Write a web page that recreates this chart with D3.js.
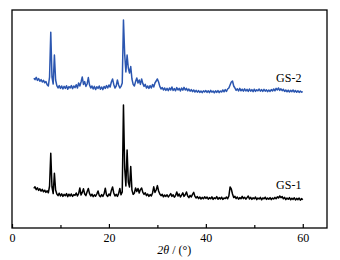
<!DOCTYPE html>
<html>
<head>
<meta charset="utf-8">
<script src="https://cdnjs.cloudflare.com/ajax/libs/d3/7.8.5/d3.min.js"></script>
<style>
  body { margin: 0; background: #fff; }
  text { font-family: "Liberation Serif", "Times New Roman", serif; }
</style>
</head>
<body>
<div id="chart"></div>
<script>
// 2theta sampling positions (deg)
var twoTheta = [
  4.5, 4.75, 5, 5.25, 5.5, 5.75, 6, 6.25, 6.5, 6.75, 7, 7.25, 7.5, 7.75,
  8, 8.25, 8.5, 8.75, 9, 9.25, 9.5, 9.75, 10, 10.25, 10.5, 10.75, 11, 11.25, 11.5, 11.75,
  12, 12.25, 12.5, 12.75, 13, 13.25, 13.5, 13.75, 14, 14.25, 14.5, 14.75, 15, 15.25, 15.5, 15.75,
  16, 16.25, 16.5, 16.75, 17, 17.25, 17.5, 17.75, 18, 18.25, 18.5, 18.75, 19, 19.25, 19.5, 19.75,
  20, 20.25, 20.5, 20.75, 21, 21.25, 21.5, 21.75, 22, 22.25, 22.5, 22.75, 23, 23.25, 23.5, 23.75,
  24, 24.25, 24.5, 24.75, 25, 25.25, 25.5, 25.75, 26, 26.25, 26.5, 26.75, 27, 27.25, 27.5, 27.75,
  28, 28.25, 28.5, 28.75, 29, 29.25, 29.5, 29.75, 30, 30.25, 30.5, 30.75, 31, 31.25, 31.5, 31.75,
  32, 32.25, 32.5, 32.75, 33, 33.25, 33.5, 33.75, 34, 34.25, 34.5, 34.75, 35, 35.25, 35.5, 35.75,
  36, 36.25, 36.5, 36.75, 37, 37.25, 37.5, 37.75, 38, 38.25, 38.5, 38.75, 39, 39.25, 39.5, 39.75,
  40, 40.25, 40.5, 40.75, 41, 41.25, 41.5, 41.75, 42, 42.25, 42.5, 42.75, 43, 43.25, 43.5, 43.75,
  44, 44.25, 44.5, 44.75, 45, 45.25, 45.5, 45.75, 46, 46.25, 46.5, 46.75, 47, 47.25, 47.5, 47.75,
  48, 48.25, 48.5, 48.75, 49, 49.25, 49.5, 49.75, 50, 50.25, 50.5, 50.75, 51, 51.25, 51.5, 51.75,
  52, 52.25, 52.5, 52.75, 53, 53.25, 53.5, 53.75, 54, 54.25, 54.5, 54.75, 55, 55.25, 55.5, 55.75,
  56, 56.25, 56.5, 56.75, 57, 57.25, 57.5, 57.75, 58, 58.25, 58.5, 58.75, 59, 59.25, 59.5, 59.75,
  60
];

// intensity (a.u.) of GS-1
var gs1 = [
  198, 206, 192, 201, 188, 196, 184, 193, 181, 189, 178, 186, 176, 210,
  374, 205, 172, 274, 190, 170, 162, 174, 160, 171, 158, 168, 161, 172, 157, 169,
  160, 170, 158, 167, 163, 175, 160, 172, 200, 165, 178, 196, 170, 162, 181, 198,
  172, 160, 169, 157, 166, 159, 170, 185, 163, 156, 167, 158, 171, 199, 165, 158,
  170, 162, 188, 205, 175, 160, 168, 158, 172, 198, 166, 180, 615, 300, 210, 390,
  230, 205, 307, 190, 168, 175, 200, 182, 198, 175, 192, 200, 178, 168, 176, 162,
  170, 158, 167, 160, 175, 206, 178, 190, 212, 185, 170, 162, 168, 156, 165, 158,
  166, 155, 163, 172, 158, 166, 154, 162, 180, 160, 170, 155, 164, 176, 158, 166,
  180, 160, 152, 163, 155, 168, 178, 158, 150, 157, 147, 155, 145, 153, 146, 156,
  148, 155, 144, 152, 146, 156, 143, 151, 147, 157, 144, 152, 145, 154, 143, 150,
  147, 155, 146, 160, 205, 195, 170, 152, 158, 147, 155, 144, 152, 146, 158, 147,
  154, 144, 152, 160, 145, 153, 143, 151, 146, 155, 142, 150, 145, 153, 141, 150,
  146, 154, 143, 150, 144, 152, 142, 150, 145, 153, 146, 156, 150, 160, 152, 157,
  146, 153, 142, 150, 144, 152, 141, 149, 143, 151, 140, 148, 142, 150, 139, 147,
  141
];

// intensity (a.u.) of GS-2, drawn shifted up by offset2
var gs2 = [
  209, 202, 213, 198, 207, 194, 202, 190, 198, 186, 192, 176, 170, 215,
  439, 215, 180, 325, 200, 172, 160, 172, 158, 170, 155, 168, 158, 171, 154, 167,
  160, 172, 157, 170, 162, 176, 160, 185, 170, 190, 215, 178, 192, 168, 180, 212,
  175, 160, 170, 155, 168, 152, 166, 158, 170, 154, 165, 152, 168, 158, 172, 160,
  175, 165, 190, 205, 178, 160, 170, 200, 175, 160, 168, 185, 500, 330, 240, 325,
  260, 235, 267, 205, 178, 170, 192, 210, 185, 200, 178, 205, 182, 168, 178, 160,
  170, 158, 172, 160, 178, 165, 185, 195, 205, 190, 168, 155, 162, 150, 160, 148,
  158, 147, 160, 150, 165, 148, 157, 146, 162, 150, 158, 145, 160, 149, 163, 150,
  158, 146, 155, 144, 152, 142, 150, 140, 148, 139, 147, 138, 145, 137, 146, 140,
  147, 138, 146, 137, 148, 139, 145, 136, 146, 138, 147, 137, 145, 140, 150, 141,
  152, 143, 155, 160, 175, 190, 195, 170, 160, 148, 156, 145, 158, 146, 154, 144,
  156, 145, 153, 143, 155, 144, 152, 142, 154, 143, 151, 146, 155, 144, 152, 143,
  153, 144, 151, 142, 150, 143, 152, 145, 155, 146, 158, 150, 160, 148, 156, 147,
  153, 143, 150, 141, 149, 140, 148, 142, 150, 140, 147, 139, 146, 138, 145, 139,
  142
];
var offset2 = 540;

var majorTicks = [0, 20, 40, 60];
var minorTicks = [10, 30, 50];

var svgWidth = 340;
var svgHeight = 260;
var margin = { top: 10, right: 13, bottom: 32, left: 12 };
var width = svgWidth - margin.left - margin.right;
var height = svgHeight - margin.top - margin.bottom;

var svg = d3.select("#chart").append("svg")
  .attr("width", svgWidth)
  .attr("height", svgHeight);

var chartGroup = svg.append("g")
  .attr("transform", `translate(${margin.left}, ${margin.top})`);

var xScale = d3.scaleLinear().domain([0, 65]).range([0, width]);
var yScale = d3.scaleLinear().domain([0, 1090]).range([height, 0]);

var line = d3.line()
  .x(function (d) { return xScale(d[0]); })
  .y(function (d) { return yScale(d[1]); });

var gs1Data = twoTheta.map(function (t, i) { return [t, gs1[i]]; });
var gs2Data = twoTheta.map(function (t, i) { return [t, gs2[i] + offset2]; });

chartGroup.append("path")
  .datum(gs2Data)
  .attr("d", line)
  .attr("fill", "none")
  .attr("stroke", "#2b56b0")
  .attr("stroke-width", 1.5)
  .attr("stroke-linejoin", "round");

chartGroup.append("path")
  .datum(gs1Data)
  .attr("d", line)
  .attr("fill", "none")
  .attr("stroke", "#000")
  .attr("stroke-width", 1.5)
  .attr("stroke-linejoin", "round");

// bottom axis, ticks pointing inward
var bottomAxis = d3.axisBottom(xScale).tickValues(majorTicks).tickSize(-4).tickPadding(5);
var xAxisG = chartGroup.append("g")
  .attr("transform", `translate(0, ${height})`)
  .call(bottomAxis);
xAxisG.select(".domain").remove();
xAxisG.selectAll("text").style("font-size", "12px").attr("fill", "#000");
xAxisG.selectAll("line").attr("stroke-width", 1.2);

var minorAxis = d3.axisBottom(xScale).tickValues(minorTicks).tickSize(-3).tickFormat("");
var minorG = chartGroup.append("g")
  .attr("transform", `translate(0, ${height})`)
  .call(minorAxis);
minorG.select(".domain").remove();
minorG.selectAll("line").attr("stroke-width", 1.2);

// frame
chartGroup.append("rect")
  .attr("x", 0).attr("y", 0)
  .attr("width", width).attr("height", height)
  .attr("fill", "none")
  .attr("stroke", "#000")
  .attr("stroke-width", 1.3);

// sample labels
chartGroup.append("text")
  .attr("x", xScale(54.5)).attr("y", yScale(730))
  .style("font-size", "12px")
  .text("GS-2");
chartGroup.append("text")
  .attr("x", xScale(54.5)).attr("y", yScale(195))
  .style("font-size", "12px")
  .text("GS-1");

// axis title
var title = svg.append("text")
  .attr("x", margin.left + xScale(33.5))
  .attr("y", 254)
  .attr("text-anchor", "middle")
  .style("font-size", "12px");
title.append("tspan").style("font-style", "italic").text("2θ");
title.append("tspan").text(" / (°)");
</script>
</body>
</html>
